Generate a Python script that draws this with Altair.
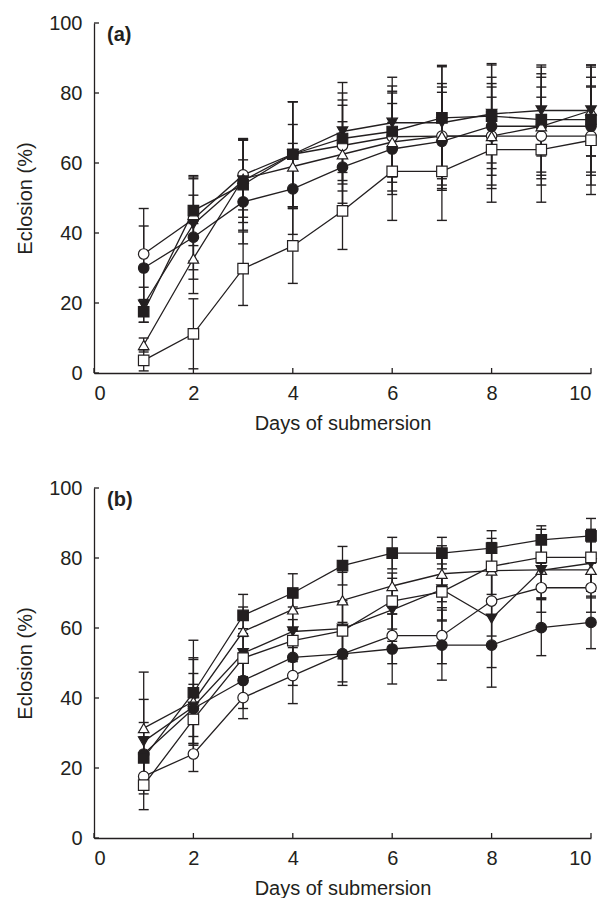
import altair as alt
import pandas as pd

INK = "#231f20"

days = [1, 2, 3, 4, 5, 6, 7, 8, 9, 10]
series = ["open_circle", "filled_circle", "open_triangle", "filled_triangle_down", "open_square", "filled_square"]
shapes = ["circle", "circle", "triangle-up", "triangle-down", "square", "square"]
fills = ["white", INK, "white", INK, "white", INK]

x_ticks = [0, 2, 4, 6, 8, 10]
y_ticks = [0, 20, 40, 60, 80, 100]

# Panel (a) means
a_open_circle = [34.0, 44.0, 56.6, 62.5, 65.0, 67.5, 67.7, 67.7, 67.7, 67.7]
a_filled_circle = [30.0, 38.8, 48.9, 52.6, 58.8, 64.0, 66.2, 70.5, 70.5, 70.5]
a_open_triangle = [8.0, 32.7, 55.5, 59.0, 62.5, 66.0, 67.7, 67.7, 70.5, 75.0]
a_filled_tri_down = [19.5, 42.5, 55.0, 62.5, 69.0, 71.5, 71.5, 74.0, 75.0, 75.0]
a_open_square = [3.6, 11.2, 29.8, 36.3, 46.3, 57.6, 57.6, 63.8, 63.8, 66.5]
a_filled_square = [17.5, 46.4, 53.8, 62.5, 67.0, 69.0, 72.9, 73.4, 72.4, 72.4]
# Panel (a) error half-widths
a_err_open_circle = [13, 12, 10, 15, 13, 13, 14, 14, 14, 14]
a_err_filled_circle = [12, 12, 12, 13, 13, 13, 14, 14, 14, 14]
a_err_open_triangle = [2, 10, 11, 12, 14, 14, 15, 15, 15, 13]
a_err_filled_tri_down = [5, 13, 12, 15, 14, 13, 16, 14, 13, 13]
a_err_open_square = [3, 10, 10.5, 10.7, 11, 14, 14, 15, 15, 15.5]
a_err_filled_square = [3, 10, 13, 15, 13, 13, 15, 15, 15, 15]

# Panel (b) means
b_open_circle = [17.6, 24.0, 40.1, 46.4, 52.6, 57.8, 57.8, 67.7, 71.5, 71.5]
b_filled_circle = [24.0, 37.0, 45.0, 51.6, 52.6, 54.0, 55.1, 55.1, 60.1, 61.6]
b_open_triangle = [31.4, 39.0, 59.0, 65.3, 67.9, 72.0, 75.5, 76.4, 76.6, 76.6]
b_filled_tri_down = [27.6, 37.5, 52.8, 59.0, 59.8, 65.2, 71.0, 62.7, 76.5, 78.5]
b_open_square = [15.1, 33.9, 51.4, 56.4, 59.2, 67.7, 70.3, 77.6, 80.2, 80.2]
b_filled_square = [22.9, 41.5, 63.6, 70.0, 77.8, 81.4, 81.4, 82.8, 85.2, 86.3]
# Panel (b) error half-widths
b_err_open_circle = [5, 5, 6, 8, 8, 8, 8, 10, 7, 7]
b_err_filled_circle = [9, 10, 8, 8, 9, 10, 10, 12, 8, 7.5]
b_err_open_triangle = [16, 12, 7, 6, 8, 8, 8, 8, 8, 8]
b_err_filled_tri_down = [12, 14, 7, 7, 8, 9, 9, 14, 8, 8]
b_err_open_square = [7, 10, 7, 6, 8, 8, 8, 8, 8, 8]
b_err_filled_square = [6, 15, 6, 5.5, 5.5, 4.5, 4.5, 5, 4, 5]

W, H = 497, 350
FS = 20


def frame(means, errs):
    rows = []
    for name, m, e in zip(series, means, errs):
        for d, v, s in zip(days, m, e):
            rows.append({"day": d, "series": name, "mean": v,
                         "lo": max(v - s, 0), "hi": min(v + s, 100)})
    return pd.DataFrame(rows)


def panel(df, label):
    xs = alt.Scale(domain=[0, 10], nice=False)
    ys = alt.Scale(domain=[0, 100], nice=False)
    xt = "Days of submersion"
    yt = "Eclosion (%)"
    base = alt.Chart(df)
    X = alt.X("day:Q", scale=xs, title=xt, axis=alt.Axis(values=x_ticks, format="d"))
    err = base.mark_rule(color=INK, strokeWidth=1.3).encode(
        x=X, y=alt.Y("lo:Q", scale=ys, title=yt, axis=alt.Axis(values=y_ticks)), y2="hi:Q")
    cap_lo = base.mark_tick(orient="horizontal", size=10, thickness=1.4, color=INK, opacity=1).encode(
        x=X, y=alt.Y("lo:Q", scale=ys, title=yt))
    cap_hi = base.mark_tick(orient="horizontal", size=10, thickness=1.4, color=INK, opacity=1).encode(
        x=X, y=alt.Y("hi:Q", scale=ys, title=yt))
    line = base.mark_line(color=INK, strokeWidth=1.3).encode(
        x=X, y=alt.Y("mean:Q", scale=ys, title=yt), detail="series:N")
    pts = base.mark_point(filled=True, size=110, stroke=INK, strokeWidth=1.2, opacity=1).encode(
        x=X, y=alt.Y("mean:Q", scale=ys, title=yt),
        shape=alt.Shape("series:N", scale=alt.Scale(domain=series, range=shapes), legend=None),
        fill=alt.Fill("series:N", scale=alt.Scale(domain=series, range=fills), legend=None),
    )
    xtick = alt.Chart(pd.DataFrame({"t": x_ticks})).mark_rule(color=INK, strokeWidth=1.3).encode(
        x=alt.X("t:Q", scale=xs, title=xt), y=alt.value(H), y2=alt.value(H - 5))
    ytick = alt.Chart(pd.DataFrame({"t": y_ticks})).mark_rule(color=INK, strokeWidth=1.3).encode(
        y=alt.Y("t:Q", scale=ys, title=yt), x=alt.value(0), x2=alt.value(5))
    lab = alt.Chart(pd.DataFrame({"label": [label]})).mark_text(
        align="left", baseline="middle", font="Liberation Sans", fontSize=FS,
        fontWeight="bold", color=INK).encode(text="label:N", x=alt.value(13), y=alt.value(12))
    return alt.layer(err, cap_lo, cap_hi, line, pts, xtick, ytick, lab).properties(width=W, height=H)


chart = alt.vconcat(
    panel(frame([a_open_circle, a_filled_circle, a_open_triangle, a_filled_tri_down, a_open_square, a_filled_square],
                [a_err_open_circle, a_err_filled_circle, a_err_open_triangle, a_err_filled_tri_down, a_err_open_square, a_err_filled_square]), "(a)"),
    panel(frame([b_open_circle, b_filled_circle, b_open_triangle, b_filled_tri_down, b_open_square, b_filled_square],
                [b_err_open_circle, b_err_filled_circle, b_err_open_triangle, b_err_filled_tri_down, b_err_open_square, b_err_filled_square]), "(b)"),
    spacing=45,
).properties(
    padding={"left": 7, "top": 5, "right": 0, "bottom": 0}
).configure_view(stroke=None).configure_axis(
    grid=False, ticks=False, domainColor=INK, domainWidth=1.3,
    labelFont="Liberation Sans", titleFont="Liberation Sans",
    labelFontSize=FS, titleFontSize=FS, titleFontWeight="normal",
    labelColor=INK, titleColor=INK,
).configure_axisX(labelPadding=10, titlePadding=10).configure_axisY(labelPadding=12, titlePadding=13)

chart.save("out.html", embed_options={"renderer": "svg", "actions": False})
